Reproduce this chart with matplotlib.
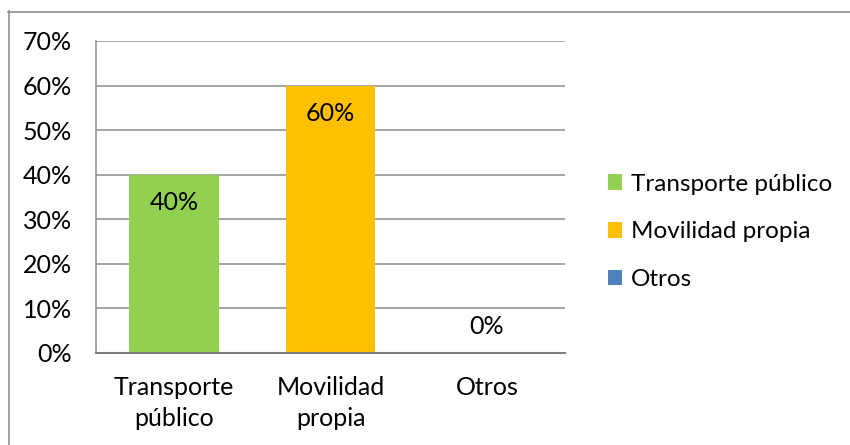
import matplotlib
matplotlib.use("Agg")
import matplotlib.pyplot as plt
from matplotlib.lines import Line2D
from matplotlib.patches import Patch

plt.rcParams.update({
    "font.family": ["Lato", "DejaVu Sans"],
    "font.size": 18,
})

categories = ["Transporte\npúblico", "Movilidad\npropia", "Otros"]
legend_labels = ["Transporte público", "Movilidad propia", "Otros"]
values = [0.40, 0.60, 0.0]
colors = ["#92D050", "#FFC000", "#4F81BD"]
yticks = [0, 0.1, 0.2, 0.3, 0.4, 0.5, 0.6, 0.7]

W, H = 850, 445
fig = plt.figure(figsize=(W / 100, H / 100), dpi=100)
ax = fig.add_axes([96 / W, (H - 353) / H, (565 - 96) / W, (353 - 41) / H])

x = range(len(categories))
ax.bar(x, values, width=0.575, color=colors, zorder=3)
ax.set_xlim(-0.5, len(categories) - 0.5)
ax.set_ylim(0, 0.7)
ax.set_yticks(yticks)
ax.set_yticklabels([f"{v:.0%}" for v in yticks])
ax.set_xticks(list(x))
ax.set_xticklabels(categories, linespacing=1.4)
ax.tick_params(axis="y", length=0, pad=17.5, colors="black")
ax.tick_params(axis="x", length=0, pad=16.5, colors="black")

ax.grid(axis="y", color="#8c8c8c", linewidth=1.1, zorder=0)
ax.set_axisbelow(True)
for s in ("top", "right"):
    ax.spines[s].set_visible(False)
ax.spines["left"].set_color("#8c8c8c")
ax.spines["left"].set_linewidth(1.1)
ax.spines["bottom"].set_color("#7f7f7f")
ax.spines["bottom"].set_linewidth(1.5)
ax.spines["bottom"].set_zorder(4)

# data labels, Excel "inside end"
for i, v in enumerate(values):
    off = -20 if v > 0 else 19
    ax.annotate(f"{v:.0%}", (i, v), xytext=(0, off), textcoords="offset points",
                ha="center", va="center", zorder=5)

handles = [Patch(facecolor=c, edgecolor="none") for c in colors]
fig.legend(handles, legend_labels, loc="center left", fontsize=17.5,
           bbox_to_anchor=(598 / W, 1 - 232 / H), frameon=False,
           handlelength=0.6, handleheight=0.6, handletextpad=0.35,
           labelspacing=1.1, borderaxespad=0)

# chart area border (left and top edges visible)
fig.add_artist(Line2D([8.5 / W, 8.5 / W], [0, 1 - 11 / H], transform=fig.transFigure,
                      color="#878787", linewidth=1.1))
fig.add_artist(Line2D([8 / W, 1], [1 - 11.5 / H, 1 - 11.5 / H], transform=fig.transFigure,
                      color="#878787", linewidth=1.1))

fig.savefig("out.png", dpi=100, facecolor="white")
